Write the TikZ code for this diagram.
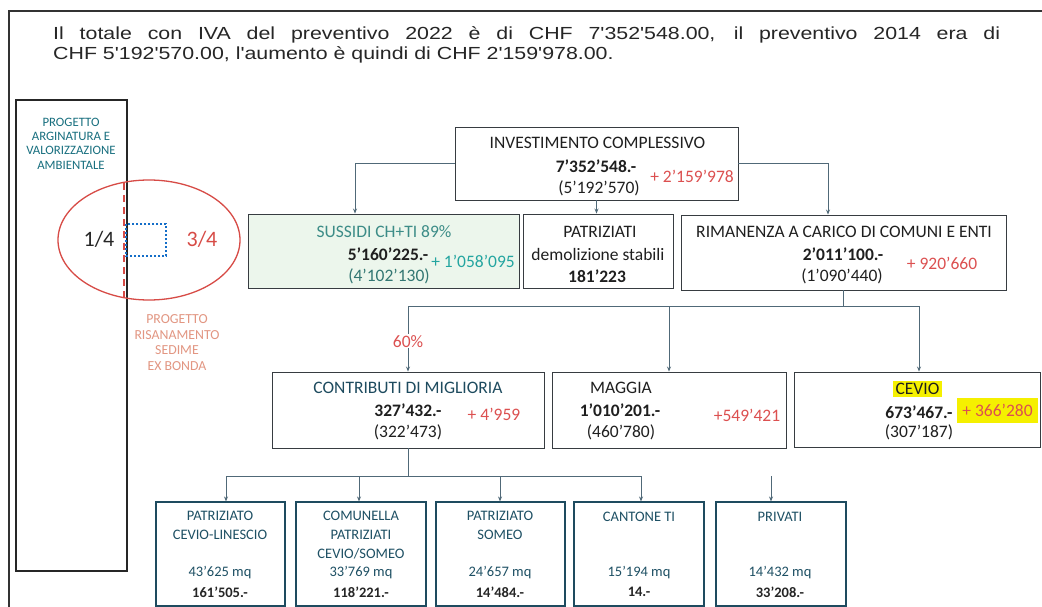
\documentclass[tikz,border=0pt]{standalone}
\usepackage{fontspec}
\setmainfont{Carlito}
\newfontfamily\arialx{Liberation Sans}[FakeStretch=1.22,Ligatures=TeXOff]
\usetikzlibrary{shapes.geometric,arrows.meta,calc}
\definecolor{incr}{RGB}{220,80,80}
\definecolor{boxc}{RGB}{55,60,65}
\definecolor{connc}{RGB}{80,105,120}
\definecolor{tealg}{RGB}{60,140,135}
\definecolor{tealb}{RGB}{35,165,160}
\definecolor{darkteal}{RGB}{30,75,95}
\definecolor{rowfour}{RGB}{30,80,100}
\definecolor{hl}{RGB}{245,240,0}
\definecolor{pink}{RGB}{226,150,130}
\definecolor{dotblue}{RGB}{20,110,200}
\definecolor{ellred}{RGB}{215,75,70}
\definecolor{susfill}{RGB}{236,246,236}
\tikzset{
  box/.style={draw=boxc, line width=0.9pt, inner sep=0pt},
  smallbox/.style={draw=darkteal, line width=1.1pt, inner sep=0pt, minimum width=130, minimum height=104},
  conn/.style={draw=connc, line width=0.8pt, -{Stealth[length=5pt,width=4pt]}},
  plain/.style={draw=connc, line width=0.8pt},
  t/.style={inner sep=0pt, font=\fontsize{17.5}{21}\selectfont, text=black!88},
  tb/.style={t, font=\fontsize{17.5}{21}\selectfont\bfseries},
  inc/.style={t, text=incr},
  r4/.style={inner sep=0pt, font=\fontsize{14.5}{18}\selectfont, text=rowfour},
  r4b/.style={inner sep=0pt, font=\fontsize{14.5}{18}\selectfont\bfseries, text=black!85},
  toptext/.style={inner sep=0pt, anchor=base west, font=\arialx\fontsize{17.5}{21}\selectfont, text=black!85}
}
\begin{document}
\begin{tikzpicture}[x=1pt,y=-1pt]
\useasboundingbox (0,0) rectangle (1042,607);
\fill[white] (0,0) rectangle (1042,607);
% outer frame
\draw[line width=1.6pt, black!80] (9,607) -- (9,11) -- (1042,11);
% top text
\node[toptext] (l1) at (53,39.5) {\makebox[947pt][s]{Il totale con IVA del preventivo 2022 è di CHF 7'352'548.00, il preventivo 2014 era di}};
\node[toptext] (l2) at (53,60) {CHF 5'192'570.00, l'aumento è quindi di CHF 2'159'978.00.};
% left project box
\node[draw=black!85, line width=2pt, minimum width=111, minimum height=471, inner sep=0pt] (lbox) at (71.5,335.5) {};
\node[inner sep=0pt, align=center, text=darkteal!80!cyan, font=\fontsize{12.8}{14.3}\selectfont] (lt) at (71,143.5) {PROGETTO\\ARGINATURA E\\VALORIZZAZIONE\\AMBIENTALE};
% ellipse and split
\node[ellipse, draw=ellred, line width=1.3pt, minimum width=182, minimum height=120, inner sep=0pt] (ell) at (149,240) {};
\draw[ellred, line width=1.6pt, dash pattern=on 7pt off 5pt] (124,183) -- (124,300);
\draw[dotblue, line width=1.8pt, dash pattern=on 1.8pt off 2.2pt] (126,224) rectangle (166,256);
\node[inner sep=0pt, font=\fontsize{22}{26}\selectfont, text=black!85] (q1) at (99,239) {1/4};
\node[inner sep=0pt, font=\fontsize{22}{26}\selectfont, text=ellred] (q3) at (202,239) {3/4};
\node[inner sep=0pt, align=center, text=pink, font=\fontsize{13.8}{15.5}\selectfont] (rt) at (177,342.5) {PROGETTO\\RISANAMENTO\\SEDIME\\EX BONDA};
% level 1
\node[box, minimum width=283, minimum height=73] (inv) at (596.5,163.5) {};
\node[t] (invt) at (597.5,143) {INVESTIMENTO COMPLESSIVO};
\node[tb] (invv) at (596,166) {7’352’548.-};
\node[t] (invo) at (599,188) {(5’192’570)};
\node[inc] (invi) at (692,176) {+ 2’159’978};
% level 2
\node[box, fill=susfill, minimum width=271, minimum height=74] (sus) at (383.5,251) {};
\node[t, text=tealg] (sust) at (384,232) {SUSSIDI CH+TI 89\%};
\node[tb] (susv) at (388,254) {5’160’225.-};
\node[t, text=tealg!85!black] (suso) at (389,276) {(4’102’130)};
\node[t, text=tealb] (susi) at (473,261) {+ 1’058’095};
\node[box, minimum width=150, minimum height=74] (pat) at (598,251) {};
\node[t] (patt) at (600,232) {PATRIZIATI};
\node[t] (patd) at (598,254) {demolizione stabili};
\node[tb] (patv) at (597,276) {181’223};
\node[box, minimum width=325, minimum height=75] (rim) at (843.5,252.5) {};
\node[t] (rimt) at (844,232) {RIMANENZA A CARICO DI COMUNI E ENTI};
\node[tb] (rimv) at (843,254) {2’011’100.-};
\node[t] (rimo) at (842,276) {(1’090’440)};
\node[inc] (rimi) at (942,263) {+ 920’660};
% level 3
\node[box, minimum width=272, minimum height=76] (con) at (408,410) {};
\node[t, text=darkteal] (cont) at (408,388) {CONTRIBUTI DI MIGLIORIA};
\node[tb] (conv) at (408,410) {327’432.-};
\node[t] (cono) at (408,432) {(322’473)};
\node[inc] (coni) at (494,414) {+ 4’959};
\node[box, minimum width=234, minimum height=76] (mag) at (669,410) {};
\node[t] (magt) at (621,388) {MAGGIA};
\node[tb] (magv) at (620,410) {1’010’201.-};
\node[t] (mago) at (621,432) {(460’780)};
\node[inc] (magi) at (747,415) {+549’421};
\node[box, minimum width=246, minimum height=75] (cev) at (917,409.5) {};
\node[t, fill=hl, inner xsep=3pt, inner ysep=2pt] (cevt) at (917.5,389) {CEVIO};
\node[tb] (cevv) at (919,412) {673’467.-};
\node[t] (cevo) at (919,432) {(307’187)};
\node[inc, fill=hl, minimum width=81, minimum height=25] (cevi) at (997.5,410.5) {+ 366’280};
% level 4
\node[smallbox, minimum width=129] (b1) at (220.5,554) {};
\node[smallbox] (b2) at (361,554) {};
\node[smallbox, minimum width=129] (b3) at (500.5,554) {};
\node[smallbox] (b4) at (639,554) {};
\node[smallbox] (b5) at (781,554) {};
\node[r4] (b1a) at (220,516) {PATRIZIATO};
\node[r4] (b1b) at (220,535) {CEVIO-LINESCIO};
\node[r4] (b1c) at (220,573) {43’625 mq};
\node[r4b] (b1d) at (220,592) {161’505.-};
\node[r4] (b2a) at (361,516) {COMUNELLA};
\node[r4] (b2b) at (361,535) {PATRIZIATI};
\node[r4] (b2c) at (361,554) {CEVIO/SOMEO};
\node[r4] (b2d) at (361,573) {33’769 mq};
\node[r4b] (b2e) at (361,592) {118’221.-};
\node[r4] (b3a) at (500,516) {PATRIZIATO};
\node[r4] (b3b) at (500,535) {SOMEO};
\node[r4] (b3c) at (500,573) {24’657 mq};
\node[r4b] (b3d) at (500,592) {14’484.-};
\node[r4] (b4a) at (639,517) {CANTONE TI};
\node[r4] (b4c) at (639,573) {15’194 mq};
\node[r4b] (b4d) at (639,592) {14.-};
\node[r4] (b5a) at (780,517) {PRIVATI};
\node[r4] (b5c) at (780,573) {14’432 mq};
\node[r4b] (b5d) at (780,592) {33’208.-};
% connectors level 1 -> 2
\draw[conn] (inv.west) -| ([xshift=-28.5pt]sus.north);
\draw[conn] (inv.east) -| ([xshift=-15.5pt]rim.north);
\draw[conn] (inv.south) -- (inv.south |- pat.north);
% level 2 -> 3
\draw[plain] (rim.south) -- (rim.south |- 0,306) coordinate (bus);
\draw[conn] (bus) -| (con.north) node[pos=0.77, fill=white, inner sep=1pt, text=incr, font=\fontsize{17.5}{21}\selectfont] (pct) {60\%};
\draw[conn] (bus) -| (mag.north);
\draw[conn] (bus) -| ([xshift=2pt]cev.north);
% level 3 -> 4
\draw[plain] (con.south) -- (con.south |- 0,476) coordinate (bus2);
\draw[conn] (bus2) -| ([xshift=5.5pt]b1.north);
\draw[conn] (bus2) -| ([xshift=-2pt]b2.north);
\draw[conn] (bus2) -| ([xshift=-0.5pt]b3.north);
\draw[conn] (bus2) -| ([xshift=2pt]b4.north);
\coordinate (pv) at (771,476);
\draw[conn] (pv) -- (pv |- b5.north);
\end{tikzpicture}
\end{document}
